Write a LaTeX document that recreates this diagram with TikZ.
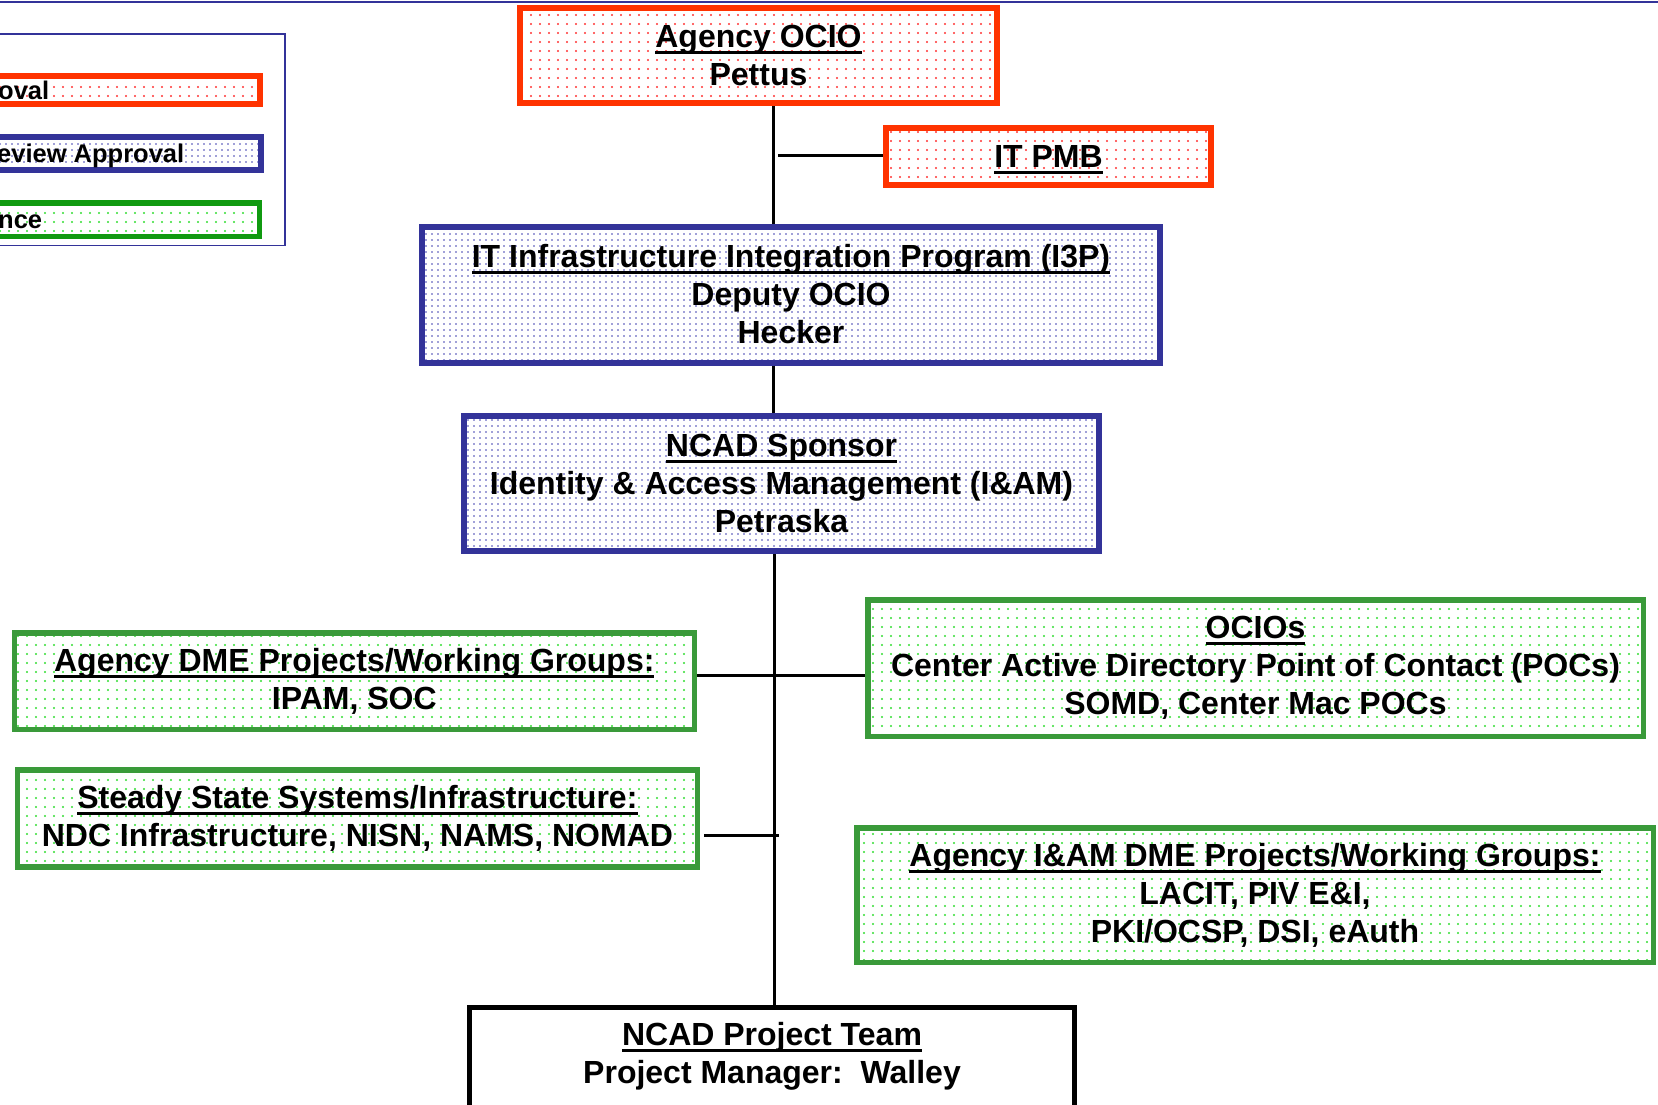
\documentclass[tikz,border=0pt]{standalone}
\usepackage{fontspec}
\setmainfont{Liberation Sans}
\usetikzlibrary{patterns.meta}
\definecolor{rbord}{HTML}{FF3300}
\definecolor{bbord}{HTML}{333399}
\definecolor{gbord}{HTML}{3A9A3A}
\definecolor{lgbord}{HTML}{109A10}
\definecolor{rdot}{HTML}{FF3333}
\definecolor{bdot}{HTML}{4040B0}
\definecolor{gdot}{HTML}{33DD33}
\newcommand\myul[1]{\leavevmode\setbox0=\hbox{#1}\rlap{\rule[-6.5pt]{\wd0}{3pt}}\box0}
\tikzset{
  box/.style={rectangle, inner sep=0pt, align=center, text=black,
    font=\fontsize{32}{38}\selectfont\bfseries},
  redbox/.style={box, draw=rbord, line width=6pt,
    pattern={Dots[distance=9pt,radius=1.1pt]}, pattern color=rdot},
  bluebox/.style={box, draw=bbord, line width=6pt,
    pattern={Dots[distance=6pt,radius=0.9pt]}, pattern color=bdot},
  greenbox/.style={box, draw=gbord, line width=5.5pt,
    pattern={Dots[distance=9pt,radius=1.1pt]}, pattern color=gdot},
  teambox/.style={box, draw=black, line width=5pt},
  legtext/.style={inner sep=0pt, anchor=base west, text=black,
    font=\fontsize{25.5}{30}\selectfont\bfseries},
  conn/.style={draw=black, line width=3pt},
}
\begin{document}
\begin{tikzpicture}[x=1pt,y=-1pt]
\useasboundingbox (0,0) rectangle (1658,1104);
\clip (0,0) rectangle (1658,1104);

% top rule
\coordinate (tl) at (0,1.5);
\coordinate (tr) at (1658,1.5);
\draw[bbord, line width=2pt] (tl) -- (tr);

% legend
\node[draw=bbord, line width=1.5pt, rectangle, inner sep=0pt,
  minimum width=324pt, minimum height=211.5pt] (legend) at (123,139.5) {};
\node[redbox, minimum width=317pt, minimum height=28pt] (legr) at (101.5,90) {};
\node[bluebox, minimum width=318pt, minimum height=33pt] (legb) at (102,153.5) {};
\node[greenbox, draw=lgbord, minimum width=316.5pt, minimum height=33.5pt] (legg) at (101,219.5) {};
\node[legtext] (legrt) at (-2,99.5) {oval};
\node[legtext] (legbt) at (-3,162.5) {eview Approval};
\node[legtext] (leggt) at (-2,228.5) {nce};

% boxes
\node[redbox, minimum width=477pt, minimum height=95pt] (ocio) at (758.5,55.5)
  {\myul{Agency OCIO}\\Pettus};
\node[redbox, text depth=0pt, minimum width=325pt, minimum height=57pt] (pmb) at (1048.5,156.5)
  {\myul{IT PMB}};
\node[bluebox, minimum width=738pt, minimum height=136pt] (i3p) at (791,294.5)
  {\myul{IT Infrastructure Integration Program (I3P)}\\Deputy OCIO\\Hecker};
\node[bluebox, minimum width=635pt, minimum height=135.5pt] (spon) at (781.5,483.5)
  {\myul{NCAD Sponsor}\\Identity \& Access Management (I\&AM)\\Petraska};
\node[greenbox, minimum width=680pt, minimum height=96.5pt] (dme) at (354.3,681)
  {\myul{Agency DME Projects/Working Groups:}\\IPAM, SOC};
\node[greenbox, minimum width=775.5pt, minimum height=136.5pt] (ocios) at (1255.5,668)
  {\myul{OCIOs}\\Center Active Directory Point of Contact (POCs)\\SOMD, Center Mac POCs};
\node[greenbox, minimum width=679.7pt, minimum height=97pt] (steady) at (357.4,818.5)
  {\myul{Steady State Systems/Infrastructure:}\\NDC Infrastructure, NISN, NAMS, NOMAD};
\node[greenbox, minimum width=796.5pt, minimum height=134.5pt] (iam) at (1255,895)
  {\myul{Agency I\&AM DME Projects/Working Groups:}\\LACIT, PIV E\&I,\\PKI/OCSP, DSI, eAuth};
\node[teambox, minimum width=605pt, minimum height=130pt] (team) at (772,1072)
  {\myul{NCAD Project Team}\\Project Manager:\ \ Walley\\\mbox{}};

% connectors
\coordinate (sp) at (773,0);
\coordinate (sp2) at (774,0);
\draw[conn] (sp |- ocio.south) -- (sp |- i3p.north);
\draw[conn] (sp |- i3p.south) -- (sp |- spon.north);
\draw[conn] (sp2 |- spon.south) -- (sp2 |- team.north);
\coordinate (pmbstub) at (778,155);
\draw[conn] (pmbstub) -- (pmbstub -| pmb.west);
\coordinate (midrow) at (0,675);
\draw[conn] (dme.east |- midrow) -- (ocios.west |- midrow);
\coordinate (ststub) at (704,835);
\coordinate (stend) at (779,835);
\draw[conn] (ststub) -- (stend);
\end{tikzpicture}
\end{document}
